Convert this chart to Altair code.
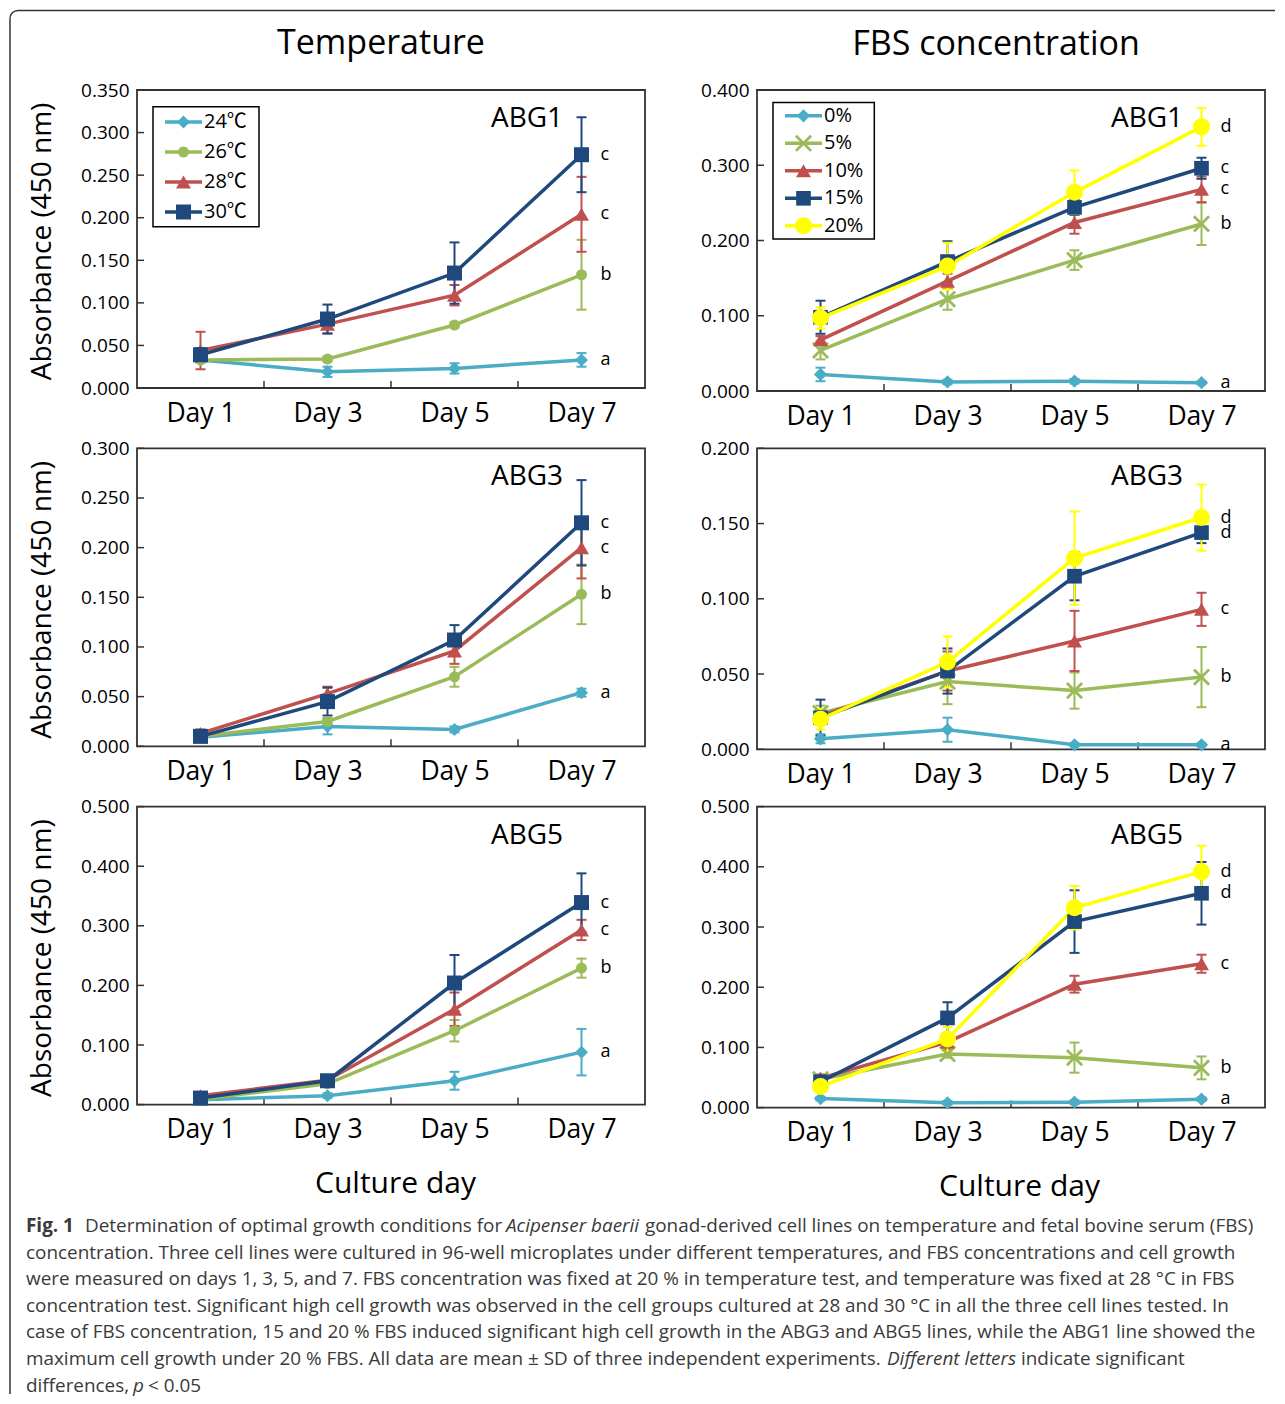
import altair as alt
import pandas as pd

# ---------------- data ----------------
days = [1, 3, 5, 7]
day_labels = ["Day 1", "Day 3", "Day 5", "Day 7"]
band_edges = [2, 4, 6]

temp_names = ["24℃", "26℃", "28℃", "30℃"]
fbs_names = ["0%", "5%", "10%", "15%", "20%"]

# Temperature, ABG1
t1_means = [[0.033, 0.019, 0.023, 0.033],
            [0.033, 0.034, 0.074, 0.133],
            [0.044, 0.075, 0.109, 0.204],
            [0.039, 0.081, 0.135, 0.274]]
t1_errs = [[0.003, 0.006, 0.006, 0.008],
           [0.003, 0.003, 0.003, 0.041],
           [0.022, 0.011, 0.012, 0.044],
           [0.008, 0.017, 0.036, 0.044]]
t1_letters = ["a", "b", "c", "c"]

# Temperature, ABG3
t3_means = [[0.009, 0.020, 0.017, 0.054],
            [0.010, 0.025, 0.070, 0.153],
            [0.013, 0.053, 0.096, 0.200],
            [0.010, 0.045, 0.107, 0.225]]
t3_errs = [[0.002, 0.008, 0.003, 0.004],
           [0.002, 0.003, 0.010, 0.030],
           [0.004, 0.007, 0.013, 0.031],
           [0.004, 0.014, 0.015, 0.043]]
t3_letters = ["a", "b", "c", "c"]

# Temperature, ABG5
t5_means = [[0.008, 0.015, 0.040, 0.088],
            [0.009, 0.035, 0.124, 0.229],
            [0.015, 0.041, 0.160, 0.293],
            [0.011, 0.040, 0.204, 0.339]]
t5_errs = [[0.003, 0.004, 0.015, 0.039],
           [0.003, 0.004, 0.018, 0.016],
           [0.004, 0.005, 0.028, 0.017],
           [0.004, 0.005, 0.047, 0.049]]
t5_letters = ["a", "b", "c", "c"]

# FBS, ABG1
f1_means = [[0.022, 0.012, 0.013, 0.011],
            [0.054, 0.122, 0.174, 0.222],
            [0.068, 0.146, 0.224, 0.268],
            [0.098, 0.172, 0.244, 0.296],
            [0.097, 0.166, 0.264, 0.351]]
f1_errs = [[0.009, 0.003, 0.003, 0.002],
           [0.012, 0.014, 0.013, 0.028],
           [0.005, 0.010, 0.015, 0.017],
           [0.022, 0.027, 0.010, 0.014],
           [0.014, 0.031, 0.029, 0.025]]
f1_letters = ["a", "b", "c", "c", "d"]

# FBS, ABG3
f3_means = [[0.007, 0.013, 0.003, 0.003],
            [0.024, 0.045, 0.039, 0.048],
            [0.022, 0.052, 0.072, 0.093],
            [0.021, 0.052, 0.115, 0.144],
            [0.020, 0.058, 0.127, 0.154]]
f3_errs = [[0.003, 0.008, 0.001, 0.001],
           [0.005, 0.015, 0.012, 0.020],
           [0.004, 0.013, 0.020, 0.011],
           [0.012, 0.015, 0.016, 0.007],
           [0.007, 0.017, 0.031, 0.022]]
f3_letters = ["a", "b", "c", "d", "d"]

# FBS, ABG5
f5_means = [[0.015, 0.008, 0.009, 0.014],
            [0.047, 0.089, 0.083, 0.066],
            [0.049, 0.109, 0.205, 0.239],
            [0.043, 0.149, 0.309, 0.356],
            [0.035, 0.114, 0.332, 0.392]]
f5_errs = [[0.003, 0.003, 0.003, 0.003],
           [0.005, 0.006, 0.025, 0.019],
           [0.006, 0.012, 0.014, 0.015],
           [0.006, 0.026, 0.052, 0.052],
           [0.005, 0.020, 0.036, 0.043]]
f5_letters = ["a", "b", "c", "d", "d"]

yticks_t1 = [0.0, 0.05, 0.1, 0.15, 0.2, 0.25, 0.3, 0.35]
yticks_t3 = [0.0, 0.05, 0.1, 0.15, 0.2, 0.25, 0.3]
yticks_t5 = [0.0, 0.1, 0.2, 0.3, 0.4, 0.5]
yticks_f1 = [0.0, 0.1, 0.2, 0.3, 0.4]
yticks_f3 = [0.0, 0.05, 0.1, 0.15, 0.2]
yticks_f5 = [0.0, 0.1, 0.2, 0.3, 0.4, 0.5]

caption_lines = [
    ["Fig. 1", "Determination of optimal growth conditions for", "Acipenser baerii",
     "gonad-derived cell lines on temperature and fetal bovine serum (FBS)"],
    ["concentration. Three cell lines were cultured in 96-well microplates under different temperatures, and FBS concentrations and cell growth"],
    ["were measured on days 1, 3, 5, and 7. FBS concentration was fixed at 20 % in temperature test, and temperature was fixed at 28 °C in FBS"],
    ["concentration test. Significant high cell growth was observed in the cell groups cultured at 28 and 30 °C in all the three cell lines tested. In"],
    ["case of FBS concentration, 15 and 20 % FBS induced significant high cell growth in the ABG3 and ABG5 lines, while the ABG1 line showed the"],
    ["maximum cell growth under 20 % FBS. All data are mean ± SD of three independent experiments.", "Different letters",
     "indicate significant"],
    ["differences,", "p", "< 0.05"],
]

# ---------------- styles ----------------
FONT = "Open Sans"
CJK = "Open Sans, Noto Sans CJK KR, sans-serif"
FRAME = "#333333"
W = 508
X_PATH = "M-1,-1L1,1M-1,1L1,-1"

temp_colors = ["#4bacc6", "#9bbb59", "#c0504d", "#1f497d"]
temp_shapes = ["diamond", "circle", "triangle-up", "square"]
temp_sizes = [170, 121, 225, 225]
temp_filled = [True, True, True, True]

fbs_colors = ["#4bacc6", "#9bbb59", "#c0504d", "#1f497d", "#ffff00"]
fbs_shapes = ["diamond", X_PATH, "triangle-up", "square", "circle"]
fbs_sizes = [175, 230, 225, 215, 290]
fbs_filled = [True, False, True, True, True]

one = pd.DataFrame({"a": [0]})


def point_mark(shape, size, filled, color):
    if filled:
        return dict(shape=shape, size=size, filled=True, color=color, opacity=1)
    return dict(shape=shape, size=size, filled=False, color=color, opacity=1, strokeWidth=2.8)


def panel(names, means, errs, colors, shapes, sizes, filled, letters, ymax, yticks,
          height, label, ytitle=False, xtitle_x=None, legend=None, coltitle=None):
    xs = alt.Scale(domain=[0, 8], nice=False, zero=False)
    ys = alt.Scale(domain=[0, ymax], nice=False, zero=True)
    label_expr = " : ".join(f"datum.value == {d} ? '{l}'" for d, l in zip(days, day_labels)) + " : ''"

    xkw = dict(values=days, labelExpr=label_expr, ticks=False, tickSize=0, domain=False, grid=False,
               labelFont=FONT, labelFontSize=26.5, labelColor="black", labelPadding=33,
               labelBaseline="alphabetic", labelFlush=False, labelOverlap=False)
    if xtitle_x is not None:
        xkw.update(title="Culture day", titleFont=FONT, titleFontSize=30, titleFontWeight="normal",
                   titleColor="black", titleX=xtitle_x, titleY=79, titleBaseline="middle",
                   titleAlign="center")
    else:
        xkw.update(title=None)
    ykw = dict(values=yticks, format=".3f", ticks=False, tickSize=0, domain=False, grid=False,
               labelFont=FONT, labelFontSize=19, labelColor="black", labelPadding=8,
               labelOverlap=False, labelFlush=False)
    if ytitle:
        ykw.update(title="Absorbance (450 nm)", titleFont=FONT, titleFontSize=28,
                   titleFontWeight="normal", titleColor="black", titleX=-95, titleY=151,
                   titleAngle=270, titleBaseline="middle", titleAlign="center")
    else:
        ykw.update(title=None)
    xaxis = alt.Axis(**xkw)
    yaxis = alt.Axis(**ykw)

    def X(f):
        return alt.X(f, scale=xs, axis=xaxis)

    def Y(f):
        return alt.Y(f, scale=ys, axis=yaxis)

    layers = []
    # inward ticks
    layers.append(alt.Chart(pd.DataFrame({"v": yticks})).mark_rule(color=FRAME, strokeWidth=1.5).encode(
        y=Y("v:Q"), x=alt.value(0), x2=alt.value(7)))
    layers.append(alt.Chart(pd.DataFrame({"v": band_edges})).mark_rule(color=FRAME, strokeWidth=1.5).encode(
        x=X("v:Q"), y=alt.value(height), y2=alt.value(height - 7)))

    dfs = []
    for m, e in zip(means, errs):
        dfs.append(pd.DataFrame({"day": days, "mean": m,
                                 "lo": [a - b for a, b in zip(m, e)],
                                 "hi": [a + b for a, b in zip(m, e)]}))
    # error bars
    for df, c in zip(dfs, colors):
        layers.append(alt.Chart(df).mark_rule(color=c, strokeWidth=2).encode(
            x=X("day:Q"), y=Y("lo:Q"), y2="hi:Q"))
        for f in ["lo", "hi"]:
            layers.append(alt.Chart(df).mark_tick(orient="horizontal", size=10, thickness=2,
                                                  color=c, opacity=1).encode(
                x=X("day:Q"), y=Y(f + ":Q")))
    # lines
    for df, c in zip(dfs, colors):
        layers.append(alt.Chart(df).mark_line(color=c, strokeWidth=3.5).encode(
            x=X("day:Q"), y=Y("mean:Q")))
    # markers
    for df, c, s, z, f in zip(dfs, colors, shapes, sizes, filled):
        layers.append(alt.Chart(df).mark_point(**point_mark(s, z, f, c)).encode(
            x=X("day:Q"), y=Y("mean:Q")))
    # significance letters
    ldf = pd.DataFrame({"day": [days[-1]] * len(letters), "mean": [m[-1] for m in means],
                        "letter": letters})
    layers.append(alt.Chart(ldf).mark_text(align="left", baseline="middle", dx=19, fontSize=18,
                                           font=FONT, color="black").encode(
        x=X("day:Q"), y=Y("mean:Q"), text="letter:N"))
    # cell-line label
    layers.append(alt.Chart(one).mark_text(align="center", baseline="alphabetic", fontSize=28,
                                           font=FONT, color="black").encode(
        x=alt.value(390), y=alt.value(37), text=alt.value(label)))
    # column title
    if coltitle is not None:
        txt, tx, ty = coltitle
        layers.append(alt.Chart(one).mark_text(align="center", baseline="alphabetic", fontSize=34,
                                               font=FONT, color="black").encode(
            x=alt.value(tx), y=alt.value(ty), text=alt.value(txt)))
    # legend
    if legend is not None:
        bx1, by1, bx2, by2, ey0, estep = legend
        layers.append(alt.Chart(one).mark_rect(fill="white", stroke="black", strokeWidth=1.5).encode(
            x=alt.value(bx1), x2=alt.value(bx2), y=alt.value(by1), y2=alt.value(by2)))
        for i, (n, c, s, z, f) in enumerate(zip(names, colors, shapes, sizes, filled)):
            yy = ey0 + estep * i
            layers.append(alt.Chart(one).mark_rule(color=c, strokeWidth=3.5).encode(
                x=alt.value(28), x2=alt.value(65), y=alt.value(yy)))
            layers.append(alt.Chart(one).mark_point(**point_mark(s, z, f, c)).encode(
                x=alt.value(46.5), y=alt.value(yy)))
            layers.append(alt.Chart(one).mark_text(align="left", baseline="middle", fontSize=20,
                                                   font=CJK, color="black").encode(
                x=alt.value(67), y=alt.value(yy), text=alt.value(n)))
    return alt.layer(*layers).properties(width=W, height=height)


HL, HR = 298, 301
L1 = panel(temp_names, t1_means, t1_errs, temp_colors, temp_shapes, temp_sizes, temp_filled, t1_letters,
           0.35, yticks_t1, HL, "ABG1", ytitle=True, legend=(16, 16.7, 122, 136.7, 32, 30),
           coltitle=("Temperature", 244, -36))
L2 = panel(temp_names, t3_means, t3_errs, temp_colors, temp_shapes, temp_sizes, temp_filled, t3_letters,
           0.30, yticks_t3, HL, "ABG3", ytitle=True)
L3 = panel(temp_names, t5_means, t5_errs, temp_colors, temp_shapes, temp_sizes, temp_filled, t5_letters,
           0.50, yticks_t5, HL, "ABG5", ytitle=True, xtitle_x=258)
R1 = panel(fbs_names, f1_means, f1_errs, fbs_colors, fbs_shapes, fbs_sizes, fbs_filled, f1_letters,
           0.40, yticks_f1, HR, "ABG1", legend=(16, 12.4, 117.3, 149, 25.8, 27.5),
           coltitle=("FBS concentration", 239, -35))
R2 = panel(fbs_names, f3_means, f3_errs, fbs_colors, fbs_shapes, fbs_sizes, fbs_filled, f3_letters,
           0.20, yticks_f3, HR, "ABG3")
R3 = panel(fbs_names, f5_means, f5_errs, fbs_colors, fbs_shapes, fbs_sizes, fbs_filled, f5_letters,
           0.50, yticks_f5, HR, "ABG5", xtitle_x=262)

# ---------------- caption + frame ----------------
ROW_SP = 57.3
OX, OY = 137, 90 + 3 * (HR + ROW_SP)   # page position of the caption cell origin
seg_x = [[26, 85, 506, 645], [26], [26], [26], [26], [26, 887, 1021], [26, 133, 148]]
seg_style = [["bold", "normal", "italic", "normal"], ["normal"], ["normal"], ["normal"], ["normal"],
             ["normal", "italic", "normal"], ["normal", "italic", "normal"]]
cap_layers = []
for i, (segs, xsx, sts) in enumerate(zip(caption_lines, seg_x, seg_style)):
    yy = 1226 + 26.6 * i - OY
    for t, px, st in zip(segs, xsx, sts):
        kw = dict(align="left", baseline="middle", fontSize=18.9, font=FONT, color="#3a3a3a")
        if st == "bold":
            kw["fontWeight"] = "bold"
        if st == "italic":
            kw["fontStyle"] = "italic"
        cap_layers.append(alt.Chart(one).mark_text(**kw).encode(
            x=alt.value(px - OX), y=alt.value(yy), text=alt.value(t)))

# figure frame (rounded top-left corner, open to the right/bottom)
cap_layers.append(alt.Chart(one).mark_arc(innerRadius=7.25, outerRadius=8.75, theta=4.71239,
                                          theta2=6.28318, color=FRAME).encode(
    x=alt.value(18 - OX), y=alt.value(18.5 - OY)))
cap_layers.append(alt.Chart(one).mark_rule(color=FRAME, strokeWidth=1.5).encode(
    x=alt.value(18 - OX), x2=alt.value(1275 - OX), y=alt.value(10.5 - OY)))
cap_layers.append(alt.Chart(one).mark_rule(color=FRAME, strokeWidth=1.5).encode(
    x=alt.value(10 - OX), y=alt.value(18.5 - OY), y2=alt.value(1394 - OY)))

caption = alt.layer(*cap_layers).properties(
    width=W, height=150, view=alt.ViewBackground(stroke="transparent"))

chart = alt.concat(L1, R1, L2, R2, L3, R3, caption, columns=2,
                   spacing={"row": ROW_SP, "column": 112}, bounds="flush", align="each").properties(
    padding={"left": 0, "top": 0, "right": 0, "bottom": 0}
).configure(font=FONT, background="white").configure_view(stroke=FRAME, strokeWidth=1.8)

chart.save("out.html", embed_options={"renderer": "svg", "actions": False})
